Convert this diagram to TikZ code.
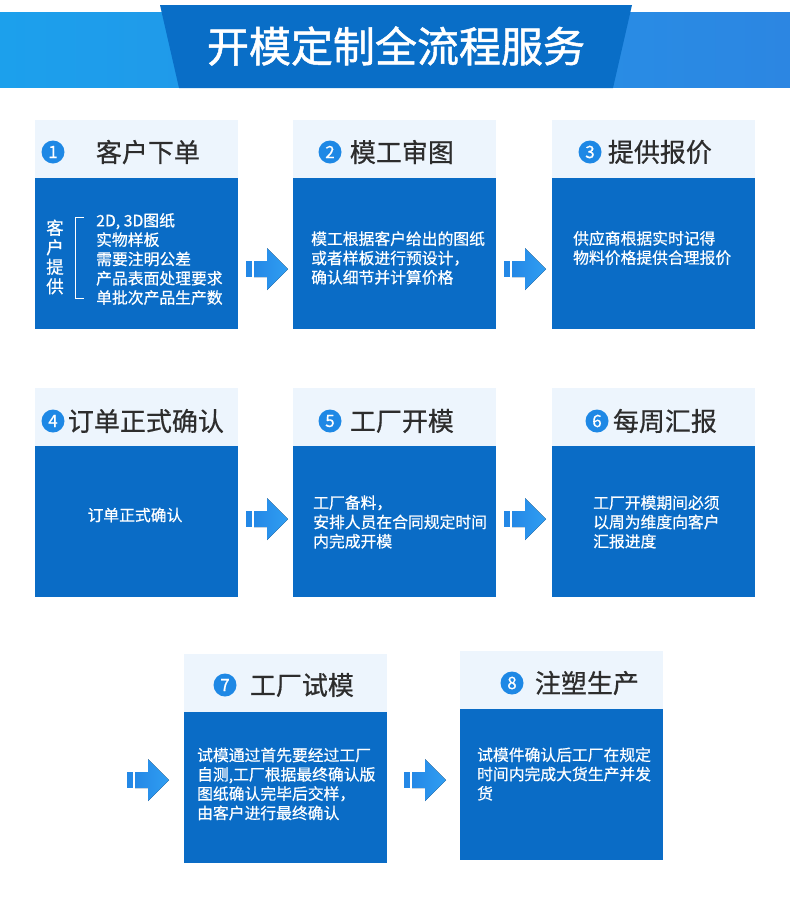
\documentclass[tikz,border=0pt]{standalone}
\usepackage{fontspec}
\setmainfont{Noto Sans CJK SC}
\newfontfamily\medfont{Noto Sans CJK SC}[FakeBold=0.6]
\newfontfamily\headfont{Noto Sans CJK SC}[FakeBold=1.2]
\usetikzlibrary{positioning}

\definecolor{bodyblue}{RGB}{10,108,198}
\definecolor{headlight}{RGB}{237,245,253}
\definecolor{titlegray}{RGB}{45,45,45}
\definecolor{numblue}{RGB}{30,136,229}
\definecolor{bandL}{RGB}{28,160,236}
\definecolor{bandR}{RGB}{44,134,226}
\definecolor{trapblue}{RGB}{9,110,199}
\definecolor{arrA}{RGB}{36,136,230}
\definecolor{arrB}{RGB}{48,158,242}

\tikzset{
  flowarrow/.pic={
    \fill[arrA] (0,-8) rectangle (6,8);
    \fill[left color=arrA, right color=arrB] (8,-8) -- (21,-8) -- (21,-21) -- (42,0) -- (21,21) -- (21,8) -- (8,8) -- cycle;
  }
}

\begin{document}
\begin{tikzpicture}[x=1pt, y=-1pt,
  head/.style={fill=headlight, minimum width=203pt, minimum height=58pt, inner sep=0, outer sep=0, anchor=north west},
  body/.style={fill=bodyblue, minimum width=203pt, minimum height=151pt, inner sep=0, outer sep=0, anchor=north},
  num/.style={circle, fill=numblue, text=white, minimum size=23pt, inner sep=0, font=\medfont\fontsize{17}{17}\selectfont},
  ttl/.style={text=titlegray, inner sep=0, font=\medfont\fontsize{26}{26}\selectfont},
  txt/.style={anchor=west, text=white, inner sep=0, align=left, font=\medfont\fontsize{15.8}{19.3}\selectfont}]

\useasboundingbox (0,0) rectangle (790,922);

% title band
\fill[left color=bandL, right color=bandR] (0,12) rectangle (790,87);
\fill[trapblue] (160,5) -- (632,5) -- (613,88) -- (179,88) -- cycle;
\node[text=white, inner sep=0, font=\headfont\fontsize{42}{42}\selectfont] (T) at (396,46) {开模定制全流程服务};

% row 1
\node[head] (H1) at (35,120) {};
\node[body] (B1) at (H1.south) {};
\node[head] (H2) at (293,120) {};
\node[body] (B2) at (H2.south) {};
\node[head] (H3) at (552,120) {};
\node[body] (B3) at (H3.south) {};

\node[num] (N1) at (53,152) {1};
\node[ttl, right=31pt of N1] (T1) {客户下单};
\node[num] (N2) at (330,152) {2};
\node[ttl, right=8pt of N2] (T2) {模工审图};
\node[num] (N3) at (590,152) {3};
\node[ttl, right=6pt of N3] (T3) {提供报价};

\node[text=white, inner sep=0, align=center, font=\medfont\fontsize{17.5}{19.5}\selectfont] (K1) at (55,257) {客\\户\\提\\供};
\draw[white, line width=0.8pt] (84,217) -- (75,217) -- (75,298) -- (84,298);
\node[txt] (L1) at (96,259) {2D, 3D图纸\\实物样板\\需要注明公差\\产品表面处理要求\\单批次产品生产数};
\node[txt] (L2) at (311,258) {模工根据客户给出的图纸\\或者样板进行预设计，\\确认细节并计算价格};
\node[txt] (L3) at (573,248) {供应商根据实时记得\\物料价格提供合理报价};

% row 2
\node[head] (H4) at (35,388) {};
\node[body] (B4) at (H4.south) {};
\node[head] (H5) at (293,388) {};
\node[body] (B5) at (H5.south) {};
\node[head] (H6) at (552,388) {};
\node[body] (B6) at (H6.south) {};

\node[num] (N4) at (53,421) {4};
\node[ttl, right=3pt of N4] (T4) {订单正式确认};
\node[num] (N5) at (330,421) {5};
\node[ttl, right=8pt of N5] (T5) {工厂开模};
\node[num] (N6) at (597,421) {6};
\node[ttl, right=4pt of N6] (T6) {每周汇报};

\node[txt, anchor=center] (L4) at (135,515) {订单正式确认};
\node[txt] (L5) at (313,522) {工厂备料，\\安排人员在合同规定时间\\内完成开模};
\node[txt] (L6) at (593,522) {工厂开模期间必须\\以周为维度向客户\\汇报进度};

% row 3
\node[head] (H7) at (184,654) {};
\node[body] (B7) at (H7.south) {};
\node[head] (H8) at (460,651) {};
\node[body] (B8) at (H8.south) {};

\node[num] (N7) at (225,685) {7};
\node[ttl, right=13pt of N7] (T7) {工厂试模};
\node[num] (N8) at (512,683) {8};
\node[ttl, right=11pt of N8] (T8) {注塑生产};

\node[txt] (L7) at (197,784) {试模通过首先要经过工厂\\自测,工厂根据最终确认版\\图纸确认完毕后交样，\\由客户进行最终确认};
\node[txt] (L8) at (477,774) {试模件确认后工厂在规定\\时间内完成大货生产并发\\货};

% arrows
\coordinate (A1) at (246,269);
\coordinate (A2) at (504,269);
\coordinate (A3) at (246,519);
\coordinate (A4) at (504,519);
\coordinate (A5) at (127,780);
\coordinate (A6) at (404,780);
\foreach \a in {A1,A2,A3,A4,A5,A6}
  \pic at (\a) {flowarrow};

\end{tikzpicture}
\end{document}
